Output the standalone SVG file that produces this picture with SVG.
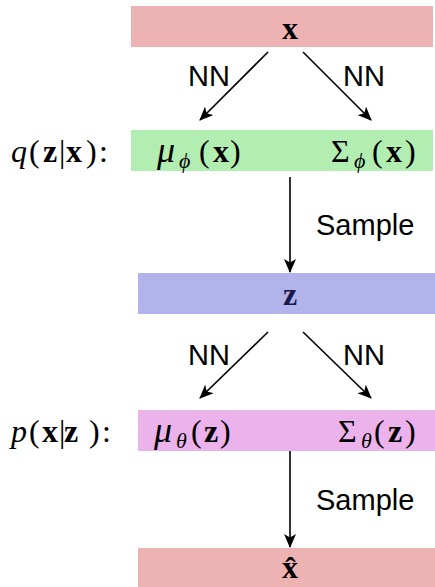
<svg xmlns="http://www.w3.org/2000/svg" width="435" height="587" viewBox="0 0 435 587">
<defs>
<style>
.m{font-family:"Liberation Serif","DejaVu Serif",serif;font-size:32px;fill:#000}
.i{font-style:italic}
.b{font-weight:bold}
.mu{font-style:italic;font-size:36px}
.s{font-size:22px;font-style:italic}
.lab{font-family:"Liberation Sans",Arial,sans-serif;font-size:29px;fill:#000}
.c{stroke:#000;stroke-width:1.6;fill:none;marker-end:url(#ah)}
</style>
<marker id="ah" viewBox="0 0 14 12" refX="13" refY="6" markerWidth="14" markerHeight="12" markerUnits="userSpaceOnUse" orient="auto">
<path d="M0,0 L14,6 L0,12 L3.5,6 Z" fill="#000"/>
</marker>
</defs>
<rect width="435" height="587" fill="#fff"/>
<g id="x-input">
<rect x="131" y="6" width="302" height="41" fill="#edb3b3"/>
<text class="m b" x="290" y="39" text-anchor="middle">x</text>
</g>
<g id="q-label">
<text class="m" y="162"><tspan class="i" x="11">q</tspan><tspan x="29">(</tspan><tspan class="b" x="43">z</tspan><tspan x="59">|</tspan><tspan class="b" x="66">x</tspan><tspan x="86">)</tspan><tspan x="99">:</tspan></text>
</g>
<g id="encoder">
<rect x="131" y="130" width="302" height="41" fill="#b2eeb2"/>
<text class="m" y="162"><tspan class="mu" x="157">μ</tspan><tspan class="s" x="179" dy="6">ϕ</tspan><tspan x="199" dy="-6">(</tspan><tspan class="b" x="213">x</tspan><tspan x="230">)</tspan></text>
<text class="m" y="162"><tspan x="331">Σ</tspan><tspan class="s" x="354" dy="6">ϕ</tspan><tspan x="372" dy="-6">(</tspan><tspan class="b" x="386">x</tspan><tspan x="405">)</tspan></text>
</g>
<g id="z-latent">
<rect x="138" y="273" width="297" height="41" fill="#b3b3eb"/>
<text class="m b" x="290" y="305" text-anchor="middle" style="fill:#1a1a4d">z</text>
</g>
<g id="p-label">
<text class="m" y="442"><tspan class="i" x="11">p</tspan><tspan x="29">(</tspan><tspan class="b" x="42">x</tspan><tspan x="59">|</tspan><tspan class="b" x="64">z</tspan><tspan x="89">)</tspan><tspan x="102">:</tspan></text>
</g>
<g id="decoder">
<rect x="138" y="410" width="297" height="41" fill="#ecb2ec"/>
<text class="m" y="442"><tspan class="mu" x="154">μ</tspan><tspan class="s" x="176" dy="6">θ</tspan><tspan x="191" dy="-6">(</tspan><tspan class="b" x="204">z</tspan><tspan x="220">)</tspan></text>
<text class="m" y="442"><tspan x="338">Σ</tspan><tspan class="s" x="361" dy="6">θ</tspan><tspan x="374" dy="-6">(</tspan><tspan class="b" x="388">z</tspan><tspan x="405">)</tspan></text>
</g>
<g id="x-hat">
<rect x="138" y="548" width="297" height="39" fill="#edb3b3"/>
<text class="m b" x="290" y="578" text-anchor="middle">x̂</text>
</g>
<g id="connectors">
<line class="c" x1="268" y1="52" x2="200" y2="120"/>
<line class="c" x1="303" y1="52" x2="371" y2="120"/>
<line class="c" x1="290" y1="177" x2="290" y2="272"/>
<line class="c" x1="268" y1="332" x2="200" y2="398"/>
<line class="c" x1="303" y1="332" x2="371" y2="398"/>
<line class="c" x1="290" y1="451" x2="290" y2="547"/>
<text class="lab" x="188" y="86">NN</text>
<text class="lab" x="343" y="86">NN</text>
<text class="lab" x="316" y="235">Sample</text>
<text class="lab" x="188" y="365">NN</text>
<text class="lab" x="343" y="365">NN</text>
<text class="lab" x="316" y="510">Sample</text>
</g>
</svg>
